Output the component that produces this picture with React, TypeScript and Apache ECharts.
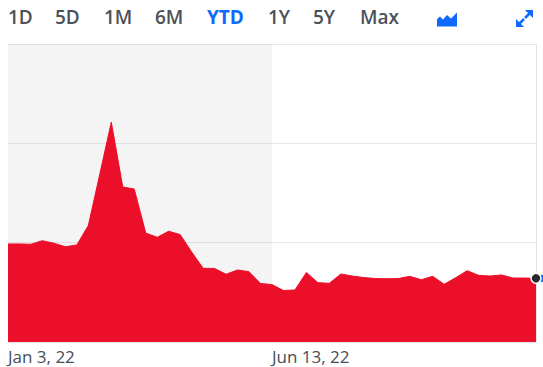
import React, { useEffect, useRef } from "react";
import * as echarts from "echarts";

const dates: string[] = [
  "Jan 3, 22", "Jan 10, 22", "Jan 17, 22", "Jan 24, 22", "Jan 31, 22",
  "Feb 7, 22", "Feb 14, 22", "Feb 21, 22", "Feb 28, 22",
  "Mar 7, 22", "Mar 14, 22", "Mar 21, 22", "Mar 28, 22",
  "Apr 4, 22", "Apr 11, 22", "Apr 18, 22", "Apr 25, 22",
  "May 2, 22", "May 9, 22", "May 16, 22", "May 23, 22", "May 30, 22",
  "Jun 6, 22", "Jun 13, 22", "Jun 20, 22", "Jun 27, 22",
  "Jul 4, 22", "Jul 11, 22", "Jul 18, 22", "Jul 25, 22",
  "Aug 1, 22", "Aug 8, 22", "Aug 15, 22", "Aug 22, 22", "Aug 29, 22",
  "Sep 5, 22", "Sep 12, 22", "Sep 19, 22", "Sep 26, 22",
  "Oct 3, 22", "Oct 10, 22", "Oct 17, 22", "Oct 24, 22", "Oct 31, 22",
  "Nov 7, 22", "Nov 14, 22", "Nov 21, 22",
];

const prices: number[] = [
  0.987, 0.987, 0.984, 1.02, 0.994, 0.959, 0.977, 1.173, 1.691, 2.213,
  1.56, 1.54, 1.097, 1.054, 1.115, 1.081, 0.906, 0.742, 0.74, 0.682,
  0.725, 0.708, 0.589, 0.578, 0.518, 0.524, 0.7, 0.597, 0.591, 0.685,
  0.664, 0.649, 0.639, 0.637, 0.639, 0.661, 0.627, 0.661, 0.581, 0.647,
  0.718, 0.671, 0.664, 0.675, 0.644, 0.644, 0.641,
];

const shownDateLabels: string[] = ["Jan 3, 22", "Jun 13, 22"];
const shadedRange: string[] = ["Jan 3, 22", "Jun 13, 22"];

const rangeTabs: string[] = ["1D", "5D", "1M", "6M", "YTD", "1Y", "5Y", "Max"];
const activeTab = "YTD";
const tabX: number[] = [8, 55, 104, 155, 207, 268, 313, 360];

export default function App() {
  const ref = useRef<HTMLDivElement>(null);

  useEffect(() => {
    if (!ref.current) return;
    const chart = echarts.init(ref.current, undefined, { renderer: "svg" });
    const blue = "#0f69ff";
    const red = "#eb0f29";
    const last = dates.length - 1;

    const tabGraphics: any[] = rangeTabs.map((t, i) => ({
      type: "text",
      left: tabX[i],
      top: 7,
      style: {
        text: t,
        fill: t === activeTab ? blue : "#4b5158",
        font: `${t === activeTab ? "bold" : "600"} 19px "Open Sans"`,
      },
    }));

    const iconGraphics: any[] = [
      {
        type: "polygon",
        shape: {
          points: [
            [437, 19], [440, 16.5], [443, 19.5], [447, 15], [451, 18.5],
            [457, 12.5], [457, 26.5], [437, 26.5],
          ],
        },
        style: { fill: blue },
      },
      {
        type: "polygon",
        shape: { points: [[525, 10], [533, 10], [533, 18]] },
        style: { fill: blue },
      },
      {
        type: "line",
        shape: { x1: 530, y1: 13, x2: 525, y2: 18 },
        style: { stroke: blue, lineWidth: 2.5 },
      },
      {
        type: "polygon",
        shape: { points: [[516, 19], [516, 27], [524, 27]] },
        style: { fill: blue },
      },
      {
        type: "line",
        shape: { x1: 519, y1: 24, x2: 524, y2: 19 },
        style: { stroke: blue, lineWidth: 2.5 },
      },
    ];

    chart.setOption({
      animation: false,
      grid: { left: 8, right: 7, top: 44, bottom: 25 },
      graphic: [...tabGraphics, ...iconGraphics],
      xAxis: {
        type: "category",
        data: dates,
        boundaryGap: false,
        axisLine: { show: false },
        axisTick: { show: false },
        splitLine: { show: false },
        axisLabel: {
          interval: (i: number, v: string) => shownDateLabels.includes(v),
          align: "left",
          margin: 6,
          color: "#464e56",
          fontSize: 17,
          fontFamily: "Open Sans",
        },
      },
      yAxis: {
        type: "value",
        min: 0,
        max: 3,
        interval: 1,
        axisLabel: { show: false },
        axisLine: { show: false },
        axisTick: { show: false },
        splitLine: { lineStyle: { color: "#e8e8ec", width: 1 } },
      },
      series: [
        {
          type: "line",
          data: [],
          z: 1,
          markArea: {
            silent: true,
            itemStyle: { color: "rgba(0,0,0,0.045)" },
            data: [[{ xAxis: shadedRange[0] }, { xAxis: shadedRange[1] }]],
          },
        },
        {
          type: "line",
          data: prices,
          z: 3,
          symbol: "none",
          lineStyle: { color: red, width: 1 },
          areaStyle: { color: red, opacity: 1 },
          markLine: {
            silent: true,
            symbol: "none",
            label: { show: false },
            lineStyle: { color: "#dde2ea", width: 1, type: "solid" },
            data: [{ xAxis: dates[last] }],
          },
          markPoint: {
            silent: true,
            label: { show: false },
            data: [
              {
                coord: [dates[last], prices[last]],
                symbol: "rect",
                symbolSize: [14, 7],
                symbolOffset: [10, 0],
                itemStyle: { color: blue },
              },
              {
                coord: [dates[last], prices[last]],
                symbol: "circle",
                symbolSize: 10,
                itemStyle: { color: "#232a31", borderColor: "#ffffff", borderWidth: 1.5 },
              },
            ],
          },
        },
      ],
    });
    return () => chart.dispose();
  }, []);

  return (
    <div
      ref={ref}
      style={{ position: "fixed", left: 0, top: 0, width: 543, height: 367, background: "#fff" }}
    />
  );
}
